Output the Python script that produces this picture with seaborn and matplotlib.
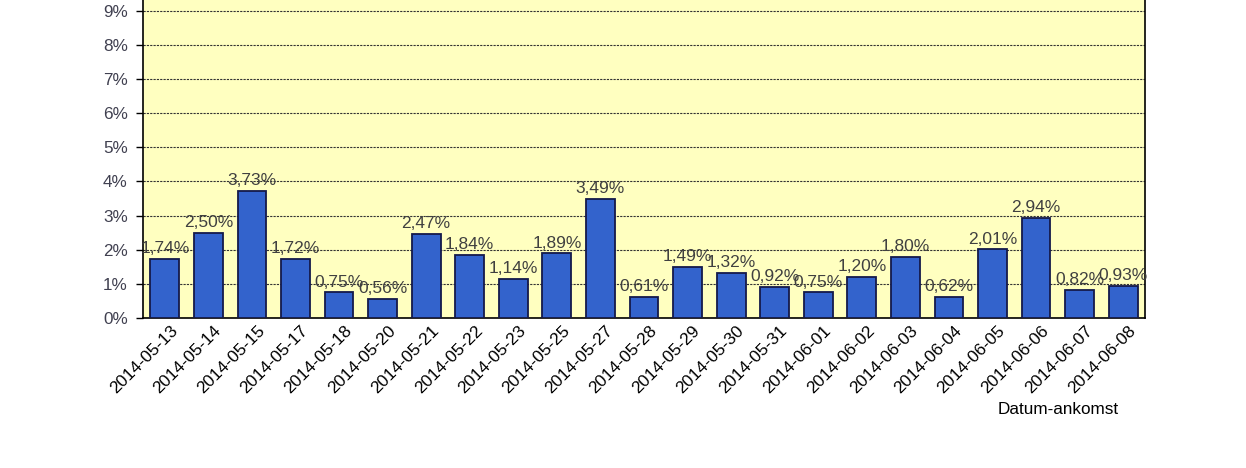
import matplotlib
matplotlib.use("Agg")
import matplotlib.pyplot as plt
import seaborn as sns
import pandas as pd

dates = ["2014-05-13", "2014-05-14", "2014-05-15", "2014-05-17", "2014-05-18",
         "2014-05-20", "2014-05-21", "2014-05-22", "2014-05-23", "2014-05-25",
         "2014-05-27", "2014-05-28", "2014-05-29", "2014-05-30", "2014-05-31",
         "2014-06-01", "2014-06-02", "2014-06-03", "2014-06-04", "2014-06-05",
         "2014-06-06", "2014-06-07", "2014-06-08"]
values = [1.74, 2.50, 3.73, 1.72, 0.75, 0.56, 2.47, 1.84, 1.14, 1.89, 3.49, 0.61,
          1.49, 1.32, 0.92, 0.75, 1.20, 1.80, 0.62, 2.01, 2.94, 0.82, 0.93]
yticks = list(range(0, 10))
ytick_labels = [f"{v}%" for v in yticks]
xlabel = "Datum-ankomst"

sns.set_style("white")
plt.rcParams['font.family'] = ['Liberation Sans', 'DejaVu Sans']

W, H = 1246, 468
fig = plt.figure(figsize=(W / 100, H / 100), dpi=100)
left, right, bottom = 143, 1145, 318
per = 34.15
top = bottom - per * 10
ax = fig.add_axes([left / W, (H - bottom) / H, (right - left) / W, (bottom - top) / H])
ax.set_facecolor("#FFFFC0")

df = pd.DataFrame({"date": dates, "value": values})
sns.barplot(data=df, x="date", y="value", color="#3363CC", saturation=1,
            width=0.66, edgecolor="#14194A", linewidth=1.3, ax=ax, zorder=3)

ax.set_xlim(-0.5, len(dates) - 0.5)
ax.set_ylim(0, 10)
ax.set_yticks(yticks)
ax.set_yticklabels(ytick_labels, fontsize=12.3, color="#404050")
ax.yaxis.grid(True, linestyle=(0, (2, 1)), color="#333333", linewidth=0.8, zorder=1)
ax.set_axisbelow(True)
ax.tick_params(axis="y", which="both", left=True, length=5, width=1, color="black", pad=6)
ax.tick_params(axis="x", length=0, pad=3)
ax.set_xticks(range(len(dates)))
ax.set_xticklabels(dates, rotation=45, ha="right", rotation_mode="anchor",
                   fontsize=12.4, color="black")
for lab in ax.get_xticklabels():
    lab.set_transform(lab.get_transform() + matplotlib.transforms.ScaledTranslation(5 / 100, -1 / 100, fig.dpi_scale_trans))

for sp in ["left", "right", "bottom"]:
    ax.spines[sp].set_visible(True)
    ax.spines[sp].set_color("black")
    ax.spines[sp].set_linewidth(1.2)
ax.spines["top"].set_visible(False)

ax.bar_label(ax.containers[0], labels=[f"{v:.2f}".replace(".", ",") + "%" for v in values],
             padding=2, fontsize=12.5, color="#404040")

ax.set_xlabel("")
ax.set_ylabel("")
fig.text(1058 / W, 1 - 409 / H, xlabel, ha="center", va="center", fontsize=12.3, color="black")

fig.savefig("out.png", dpi=100)
